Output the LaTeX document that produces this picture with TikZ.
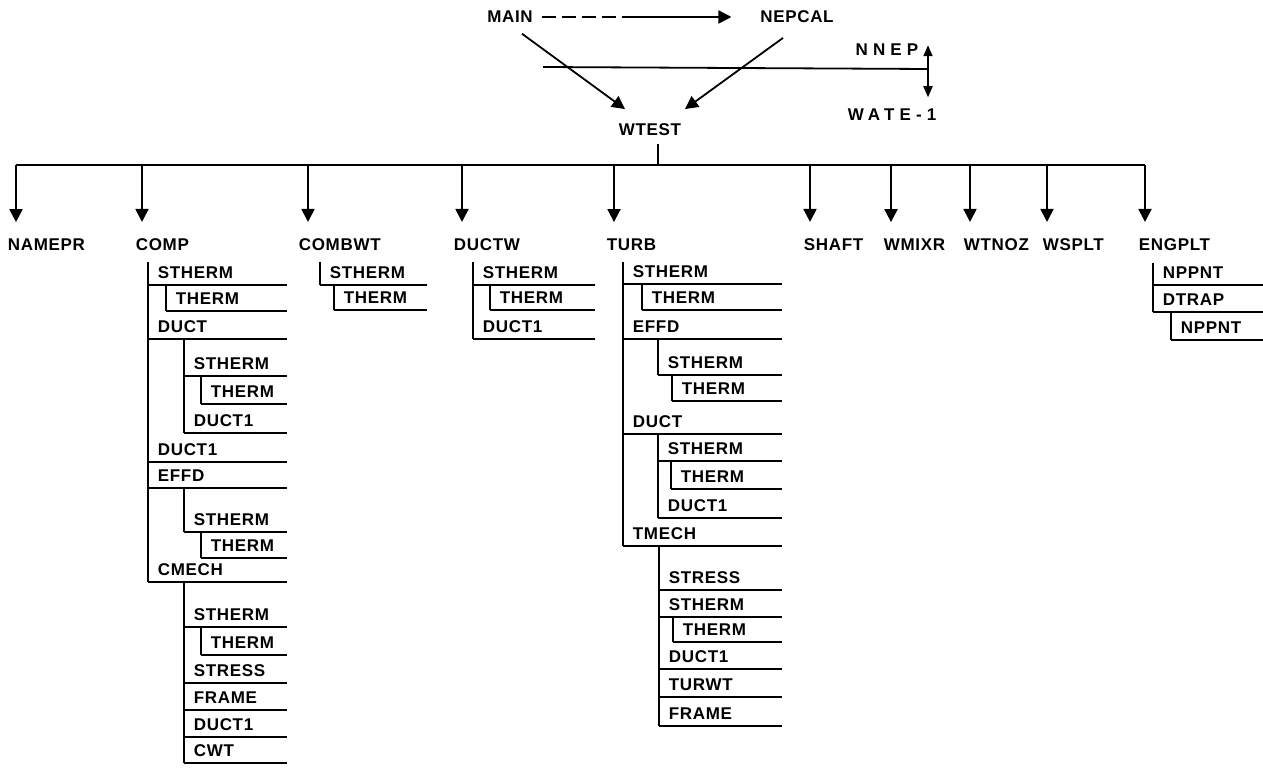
\documentclass[tikz,border=0pt]{standalone}
\usepackage{fontspec}
\setmainfont[LetterSpace=4]{Liberation Sans}
\newfontfamily\spaced[LetterSpace=30]{Liberation Sans}
\usetikzlibrary{arrows.meta,calc,positioning}

\begin{document}
\begin{tikzpicture}[
  x=1pt, y=-1pt,
  font=\fontsize{17}{20}\selectfont\bfseries,
  line width=1.8pt,
  prog/.style={inner sep=0pt},
  routine/.style={anchor=west, inner sep=0pt, outer ysep=17pt},
  leaf/.style={anchor=south west, inner xsep=9pt, inner ysep=6pt, text depth=0pt},
  call/.style={-{Triangle[length=13pt, width=13pt]}},
  dbl/.style={{Triangle[length=11pt, width=9pt]}-{Triangle[length=11pt, width=9pt]}}
]
\useasboundingbox (0,0) rectangle (1263,775);

% driver level
\node[prog] (main) at (510,17) {MAIN};
\node[prog] (nepcal) at (797,17) {NEPCAL};
\node[prog] (wtest) at (650,130) {WTEST};
\node[prog] (nnep) at (887,50) {\spaced NNEP};
\node[prog] (wate) at (892,115) {\spaced WATE-1};

\draw[dash pattern=on 14pt off 6pt] ($(main.east)+(8,0)$) -- ($(main.east)+(102,0)$) coordinate (dashend);
\draw[call] (dashend) -- ($(nepcal.west)+(-28,0)$);
\draw[call] ($(main.south)+(12,10)$) -- ($(wtest.north)+(-25,-14)$);
\draw[call] ($(nepcal.south)+(-14,14)$) -- ($(wtest.north)+(35,-14)$);

\coordinate (cutL) at (543,67);
\coordinate (cutR) at (928,69);
\draw (cutL) -- (cutR);
\draw[dbl] ($(nnep.north -| cutR)+(0,2)$) -- ($(wate.north -| cutR)+(0,-11)$);

% bus under WTEST
\coordinate (stem) at (658,165);
\draw ($(wtest.south)+(8,7)$) -- (stem);
\draw (16,165) coordinate (b1) -- (142,165) coordinate (b2) -- (308,165) coordinate (b3)
  -- (462,165) coordinate (b4) -- (614,165) coordinate (b5) -- (810,165) coordinate (b6)
  -- (891,165) coordinate (b7) -- (970,165) coordinate (b8) -- (1047,165) coordinate (b9)
  -- (1145,165) coordinate (b10);

\node[routine] (namepr) at (7,245) {NAMEPR};
\node[routine] (comp) at (135,245) {COMP};
\node[routine] (combwt) at (298,245) {COMBWT};
\node[routine] (ductw) at (453,245) {DUCTW};
\node[routine] (turb) at (606,245) {TURB};
\node[routine] (shaft) at (803,245) {SHAFT};
\node[routine] (wmixr) at (883,245) {WMIXR};
\node[routine] (wtnoz) at (963,245) {WTNOZ};
\node[routine] (wsplt) at (1042,245) {WSPLT};
\node[routine] (engplt) at (1138,245) {ENGPLT};

\draw[call] (b1) -- (b1 |- namepr.north);
\draw[call] (b2) -- (b2 |- comp.north);
\draw[call] (b3) -- (b3 |- combwt.north);
\draw[call] (b4) -- (b4 |- ductw.north);
\draw[call] (b5) -- (b5 |- turb.north);
\draw[call] (b6) -- (b6 |- shaft.north);
\draw[call] (b7) -- (b7 |- wmixr.north);
\draw[call] (b8) -- (b8 |- wtnoz.north);
\draw[call] (b9) -- (b9 |- wsplt.north);
\draw[call] (b10) -- (b10 |- engplt.north);

% COMP
\coordinate (cTop) at (148,262);
\coordinate (cR) at (287,0);
\node[leaf] (c1) at (148,285) {STHERM};
\node[leaf] (c2) at (166,311) {THERM};
\node[leaf] (c3) at (148,339) {DUCT};
\node[leaf] (c4) at (184,376) {STHERM};
\node[leaf] (c5) at (201,404) {THERM};
\node[leaf] (c6) at (184,433) {DUCT1};
\node[leaf] (c7) at (148,462) {DUCT1};
\node[leaf] (c8) at (148,488) {EFFD};
\node[leaf] (c9) at (184,532) {STHERM};
\node[leaf] (c10) at (201,558) {THERM};
\node[leaf] (c11) at (148,582) {CMECH};
\node[leaf] (c12) at (184,627) {STHERM};
\node[leaf] (c13) at (201,655) {THERM};
\node[leaf] (c14) at (184,683) {STRESS};
\node[leaf] (c15) at (184,710) {FRAME};
\node[leaf] (c16) at (184,737) {DUCT1};
\node[leaf] (c17) at (184,763) {CWT};
\draw (cTop) -- (c11.south west);
\draw (c2.south west |- c1.south) -- (c2.south west);
\draw (c6.south west |- c3.south) -- (c6.south west);
\draw (c5.south west |- c4.south) -- (c5.south west);
\draw (c9.south west |- c8.south) -- (c9.south west);
\draw (c10.south west |- c9.south) -- (c10.south west);
\draw (c17.south west |- c11.south) -- (c17.south west);
\draw (c13.south west |- c12.south) -- (c13.south west);
\draw (c1.south west) -- (c1.south west -| cR);
\draw (c2.south west) -- (c2.south west -| cR);
\draw (c3.south west) -- (c3.south west -| cR);
\draw (c4.south west) -- (c4.south west -| cR);
\draw (c5.south west) -- (c5.south west -| cR);
\draw (c6.south west) -- (c6.south west -| cR);
\draw (c7.south west) -- (c7.south west -| cR);
\draw (c8.south west) -- (c8.south west -| cR);
\draw (c9.south west) -- (c9.south west -| cR);
\draw (c10.south west) -- (c10.south west -| cR);
\draw (c11.south west) -- (c11.south west -| cR);
\draw (c12.south west) -- (c12.south west -| cR);
\draw (c13.south west) -- (c13.south west -| cR);
\draw (c14.south west) -- (c14.south west -| cR);
\draw (c15.south west) -- (c15.south west -| cR);
\draw (c16.south west) -- (c16.south west -| cR);
\draw (c17.south west) -- (c17.south west -| cR);

% COMBWT
\coordinate (kTop) at (320,262);
\coordinate (kR) at (427,0);
\node[leaf] (k1) at (320,285) {STHERM};
\node[leaf] (k2) at (334,310) {THERM};
\draw (kTop) -- (k1.south west);
\draw (k2.south west |- k1.south) -- (k2.south west);
\draw (k1.south west) -- (k1.south west -| kR);
\draw (k2.south west) -- (k2.south west -| kR);

% DUCTW
\coordinate (dTop) at (473,262);
\coordinate (dR) at (595,0);
\node[leaf] (d1) at (473,285) {STHERM};
\node[leaf] (d2) at (490,310) {THERM};
\node[leaf] (d3) at (473,339) {DUCT1};
\draw (dTop) -- (d3.south west);
\draw (d2.south west |- d1.south) -- (d2.south west);
\draw (d1.south west) -- (d1.south west -| dR);
\draw (d2.south west) -- (d2.south west -| dR);
\draw (d3.south west) -- (d3.south west -| dR);

% TURB
\coordinate (tTop) at (623,262);
\coordinate (tR) at (782,0);
\node[leaf] (t1) at (623,284) {STHERM};
\node[leaf] (t2) at (642,310) {THERM};
\node[leaf] (t3) at (623,339) {EFFD};
\node[leaf] (t4) at (658,375) {STHERM};
\node[leaf] (t5) at (672,401) {THERM};
\node[leaf] (t6) at (623,434) {DUCT};
\node[leaf] (t7) at (658,461) {STHERM};
\node[leaf] (t8) at (671,489) {THERM};
\node[leaf] (t9) at (658,518) {DUCT1};
\node[leaf] (t10) at (623,546) {TMECH};
\node[leaf] (t11) at (659,590) {STRESS};
\node[leaf] (t12) at (659,617) {STHERM};
\node[leaf] (t13) at (673,642) {THERM};
\node[leaf] (t14) at (659,669) {DUCT1};
\node[leaf] (t15) at (659,697) {TURWT};
\node[leaf] (t16) at (659,726) {FRAME};
\draw (tTop) -- (t10.south west);
\draw (t2.south west |- t1.south) -- (t2.south west);
\draw (t4.south west |- t3.south) -- (t4.south west);
\draw (t5.south west |- t4.south) -- (t5.south west);
\draw (t9.south west |- t6.south) -- (t9.south west);
\draw (t8.south west |- t7.south) -- (t8.south west);
\draw (t16.south west |- t10.south) -- (t16.south west);
\draw (t13.south west |- t12.south) -- (t13.south west);
\draw (t1.south west) -- (t1.south west -| tR);
\draw (t2.south west) -- (t2.south west -| tR);
\draw (t3.south west) -- (t3.south west -| tR);
\draw (t4.south west) -- (t4.south west -| tR);
\draw (t5.south west) -- (t5.south west -| tR);
\draw (t6.south west) -- (t6.south west -| tR);
\draw (t7.south west) -- (t7.south west -| tR);
\draw (t8.south west) -- (t8.south west -| tR);
\draw (t9.south west) -- (t9.south west -| tR);
\draw (t10.south west) -- (t10.south west -| tR);
\draw (t11.south west) -- (t11.south west -| tR);
\draw (t12.south west) -- (t12.south west -| tR);
\draw (t13.south west) -- (t13.south west -| tR);
\draw (t14.south west) -- (t14.south west -| tR);
\draw (t15.south west) -- (t15.south west -| tR);
\draw (t16.south west) -- (t16.south west -| tR);

% ENGPLT
\coordinate (eTop) at (1153,263);
\coordinate (eR) at (1263,0);
\node[leaf] (e1) at (1153,285) {NPPNT};
\node[leaf] (e2) at (1153,312) {DTRAP};
\node[leaf] (e3) at (1171,340) {NPPNT};
\draw (eTop) -- (e2.south west);
\draw (e3.south west |- e2.south) -- (e3.south west);
\draw (e1.south west) -- (e1.south west -| eR);
\draw (e2.south west) -- (e2.south west -| eR);
\draw (e3.south west) -- (e3.south west -| eR);
\end{tikzpicture}
\end{document}
